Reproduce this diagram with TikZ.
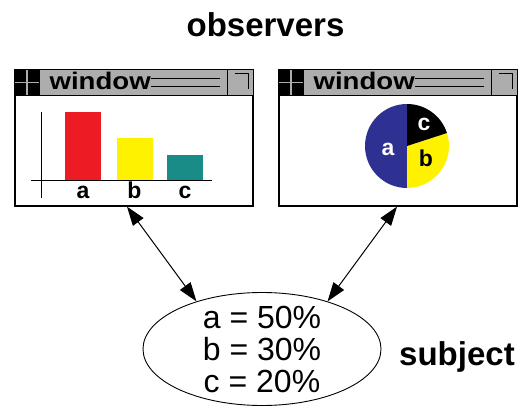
\documentclass[tikz,border=0pt]{standalone}
\usepackage{fontspec}
\setmainfont{Liberation Sans}
\usetikzlibrary{shapes.geometric,arrows.meta}
\definecolor{barred}{HTML}{ED1C24}
\definecolor{baryellow}{HTML}{FFF200}
\definecolor{barteal}{HTML}{1A8C88}
\definecolor{pieblue}{HTML}{2E3192}
\definecolor{titlegray}{HTML}{ADADAD}

\begin{document}
\begin{tikzpicture}[x=1pt,y=1pt,
    win/.style={draw,line width=1.3pt,minimum width=238pt,minimum height=136pt,inner sep=0pt},
    titlebar/.style={draw,line width=1.2pt,fill=titlegray},
    wtitle/.style={font=\fontsize{24}{24}\selectfont\bfseries,xscale=1.15,inner sep=0pt},
    lab/.style={font=\fontsize{23}{23}\selectfont\bfseries,inner sep=0pt},
    big/.style={font=\fontsize{33}{38}\selectfont\bfseries,inner sep=0pt},
    link/.style={line width=1pt,{Triangle[length=19pt,width=13pt]}-{Triangle[length=19pt,width=13pt]}}]
    \useasboundingbox (0,0) rectangle (526,407);

    % Titles
    \node[big,anchor=base] (obs) at (265.5,370) {observers};
    \node[big,anchor=base west] (subjlab) at (399,42) {subject};

    % Windows
    \node[win] (lwin) at (134,269) {};
    \node[win] (rwin) at (398,269) {};
    \foreach \w in {lwin,rwin} {
        \draw[titlebar] (\w.north west) rectangle ([yshift=-26pt]\w.north east);
        % left icon
        \fill (\w.north west) rectangle ++(25,-26);
        \draw[titlegray,line width=1.5pt] ([xshift=12.5pt]\w.north west) -- ++(0,-26);
        \draw[titlegray,line width=1.5pt] ([yshift=-13pt]\w.north west) -- ++(25,0);
        \draw[line width=1.2pt] (\w.north west) rectangle ++(25,-26);
        % right icon
        \draw[line width=1.2pt] (\w.north east) rectangle ++(-26,-26);
        \draw[line width=1pt] ([xshift=-19pt,yshift=-4.5pt]\w.north east) -| ([xshift=-5pt,yshift=-20pt]\w.north east);
        % title
        \node[wtitle,anchor=base west] (\w-t) at ([xshift=35pt,yshift=-20pt]\w.north west) {window};
        \draw[line width=1pt] ([yshift=11pt]\w-t.base east) -- ([xshift=-34pt,yshift=-9pt]\w.north east);
        \draw[line width=1pt] ([yshift=3pt]\w-t.base east) -- ([xshift=-34pt,yshift=-17pt]\w.north east);
    }

    % Bar chart
    \foreach \x/\h/\c/\l in {83/69/barred/a,134.5/43/baryellow/b,185/26/barteal/c} {
        \fill[\c] (\x-18,226) rectangle (\x+18,226+\h);
        \node[lab,anchor=base] (bar-\l) at (\x,208) {\l};
    }
    \draw[line width=1pt] (41,209) -- (41,295);
    \draw[line width=1pt] (31,226) -- (212,226);

    % Pie chart
    \coordinate (pie) at (407,261);
    \fill[pieblue] (pie) -- ++(90:42) arc[start angle=90,end angle=270,radius=42] -- cycle;
    \fill[baryellow] (pie) -- ++(-90:42) arc[start angle=-90,end angle=18,radius=42] -- cycle;
    \fill[black] (pie) -- ++(18:42) arc[start angle=18,end angle=90,radius=42] -- cycle;
    \node[lab,white] (pie-a) at (388,258) {a};
    \node[lab,white] (pie-c) at (424,283) {c};
    \node[lab] (pie-b) at (426,249) {b};

    % Subject
    \node[draw,ellipse,line width=0.9pt,minimum width=238pt,minimum height=113pt] (subj) at (262,58) {};
    \node[font=\fontsize{32}{32}\selectfont,align=center] (vals) at (subj) {a = 50\%\\b = 30\%\\c = 20\%};

    % Links
    \draw[link] ([xshift=-7pt]lwin.south) -- (subj.144);
    \draw[link] ([xshift=-1pt]rwin.south) -- (subj.36);
\end{tikzpicture}
\end{document}
